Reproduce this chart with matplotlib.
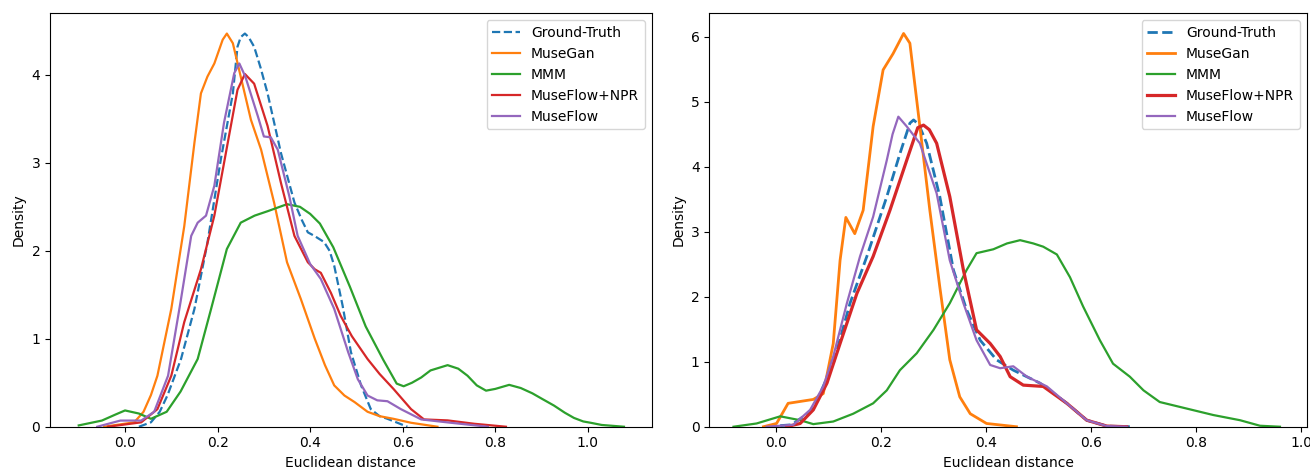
import matplotlib
matplotlib.use("Agg")
import matplotlib.pyplot as plt

# series names and colours (tab10 defaults)
labels = ["Ground-Truth", "MuseGan", "MMM", "MuseFlow+NPR", "MuseFlow"]

# ---- left panel: density curves ----
l_gt_x = [0.03, 0.056, 0.075, 0.092, 0.121, 0.15, 0.178, 0.207, 0.233, 0.243, 0.25, 0.259, 0.267, 0.279, 0.293,
          0.308, 0.337, 0.366, 0.382, 0.395, 0.409, 0.43, 0.442, 0.452, 0.47, 0.488, 0.51, 0.531, 0.55, 0.567,
          0.61]
l_gt_y = [0.0, 0.05, 0.17, 0.36, 0.77, 1.34, 2.09, 3.04, 3.79, 4.32, 4.43, 4.47, 4.43, 4.32, 4.08,
          3.79, 3.11, 2.55, 2.35, 2.21, 2.17, 2.1, 2.0, 1.83, 1.38, 0.85, 0.47, 0.2, 0.12, 0.09,
          0.0]

l_gan_x = [-0.045, 0.02, 0.04, 0.056, 0.07, 0.1, 0.128, 0.15, 0.164, 0.178, 0.193, 0.211, 0.22, 0.233, 0.25,
           0.272, 0.294, 0.322, 0.35, 0.38, 0.41, 0.432, 0.452, 0.474, 0.496, 0.524, 0.55, 0.58, 0.618, 0.675]
l_gan_y = [0.0, 0.05, 0.17, 0.36, 0.58, 1.34, 2.28, 3.23, 3.79, 3.98, 4.13, 4.4, 4.47, 4.36, 3.98,
           3.49, 3.15, 2.55, 1.87, 1.45, 1.0, 0.7, 0.47, 0.355, 0.28, 0.17, 0.12, 0.09, 0.045, 0.0]

l_mmm_x = [-0.1, -0.05, -0.02, 0.0, 0.03, 0.056, 0.09, 0.12, 0.157, 0.186, 0.22, 0.25, 0.28, 0.308, 0.35,
           0.378, 0.4, 0.421, 0.45, 0.486, 0.52, 0.558, 0.587, 0.602, 0.62, 0.64, 0.66, 0.697, 0.72, 0.74, 0.76,
           0.78, 0.80, 0.83, 0.855, 0.88, 0.9, 0.927, 0.95, 0.97, 0.99, 1.006, 1.03, 1.078]
l_mmm_y = [0.015, 0.07, 0.14, 0.185, 0.15, 0.09, 0.17, 0.4, 0.77, 1.34, 2.02, 2.32, 2.4, 2.45, 2.53,
           2.5, 2.42, 2.31, 2.04, 1.59, 1.14, 0.76, 0.49, 0.46, 0.5, 0.56, 0.64, 0.70, 0.66, 0.58, 0.47,
           0.41, 0.43, 0.476, 0.44, 0.38, 0.32, 0.24, 0.16, 0.1, 0.06, 0.045, 0.02, 0.0]

l_npr_x = [-0.037, 0.035, 0.07, 0.1, 0.128, 0.164, 0.193, 0.222, 0.243, 0.259, 0.279, 0.308, 0.337, 0.366,
           0.395, 0.41, 0.423, 0.445, 0.466, 0.49, 0.524, 0.55, 0.58, 0.618, 0.646, 0.697, 0.754, 0.823]
l_npr_y = [0.0, 0.05, 0.2, 0.58, 1.19, 1.79, 2.4, 3.23, 3.83, 4.01, 3.9, 3.42, 2.77, 2.17,
           1.87, 1.79, 1.75, 1.52, 1.26, 1.03, 0.77, 0.6, 0.43, 0.2, 0.083, 0.072, 0.034, 0.0]

l_flow_x = [-0.06, -0.01, 0.035, 0.063, 0.093, 0.12, 0.143, 0.157, 0.175, 0.193, 0.214, 0.236, 0.247, 0.26,
            0.287, 0.30, 0.315, 0.33, 0.355, 0.373, 0.4, 0.423, 0.452, 0.482, 0.503, 0.524, 0.545, 0.567, 0.596,
            0.64, 0.704, 0.784]
l_flow_y = [0.0, 0.07, 0.07, 0.17, 0.58, 1.42, 2.17, 2.32, 2.4, 2.74, 3.46, 4.02, 4.13, 3.98,
            3.53, 3.3, 3.29, 3.15, 2.62, 2.17, 1.85, 1.68, 1.34, 0.85, 0.54, 0.355, 0.3, 0.29, 0.2,
            0.083, 0.045, 0.0]

# ---- right panel ----
r_gt_x = [-0.02, 0.03, 0.07, 0.109, 0.141, 0.173, 0.211, 0.236, 0.255, 0.262, 0.272, 0.287, 0.312, 0.338,
          0.363, 0.389, 0.42, 0.452, 0.503, 0.554, 0.592, 0.63, 0.674]
r_gt_y = [0.0, 0.03, 0.26, 0.97, 1.9, 2.62, 3.54, 4.2, 4.67, 4.72, 4.65, 4.36, 3.54, 2.41,
          1.8, 1.33, 1.03, 0.87, 0.67, 0.36, 0.1, 0.01, 0.0]

r_gan_x = [-0.024, 0.001, 0.023, 0.039, 0.071, 0.09, 0.109, 0.122, 0.133, 0.15, 0.166, 0.185, 0.204, 0.223,
           0.243, 0.255, 0.274, 0.293, 0.312, 0.331, 0.35, 0.37, 0.401, 0.458]
r_gan_y = [0.0, 0.05, 0.36, 0.38, 0.42, 0.51, 1.28, 2.56, 3.22, 2.97, 3.33, 4.62, 5.49, 5.74,
           6.05, 5.9, 4.62, 3.33, 2.15, 1.03, 0.46, 0.2, 0.05, 0.0]

r_mmm_x = [-0.081, -0.037, 0.008, 0.046, 0.071, 0.109, 0.147, 0.185, 0.211, 0.236, 0.268, 0.3, 0.331, 0.363,
           0.382, 0.414, 0.44, 0.465, 0.49, 0.509, 0.535, 0.56, 0.585, 0.617, 0.642, 0.674, 0.7, 0.731, 0.782,
           0.833, 0.884, 0.922, 0.96]
r_mmm_y = [0.0, 0.05, 0.16, 0.1, 0.04, 0.08, 0.2, 0.36, 0.56, 0.87, 1.13, 1.49, 1.9, 2.41,
           2.67, 2.73, 2.82, 2.87, 2.82, 2.77, 2.65, 2.3, 1.85, 1.33, 0.97, 0.77, 0.56, 0.38, 0.28,
           0.18, 0.1, 0.015, 0.0]

r_npr_x = [0.02, 0.046, 0.071, 0.097, 0.122, 0.154, 0.185, 0.217, 0.249, 0.27, 0.281, 0.292, 0.306, 0.331,
           0.357, 0.382, 0.408, 0.427, 0.446, 0.471, 0.509, 0.554, 0.592, 0.63, 0.668]
r_npr_y = [0.0, 0.05, 0.26, 0.67, 1.28, 2.05, 2.62, 3.33, 4.1, 4.6, 4.64, 4.57, 4.36, 3.54,
           2.41, 1.49, 1.28, 1.08, 0.77, 0.64, 0.62, 0.36, 0.1, 0.01, 0.0]

r_flow_x = [-0.018, 0.033, 0.065, 0.09, 0.109, 0.135, 0.16, 0.185, 0.211, 0.222, 0.233, 0.249, 0.274, 0.306,
            0.331, 0.357, 0.382, 0.408, 0.427, 0.452, 0.478, 0.516, 0.554, 0.592, 0.63, 0.668]
r_flow_y = [0.0, 0.03, 0.26, 0.62, 1.08, 1.9, 2.62, 3.23, 4.1, 4.5, 4.77, 4.62, 4.36, 3.59,
            2.56, 1.9, 1.33, 0.95, 0.9, 0.93, 0.77, 0.62, 0.36, 0.1, 0.01, 0.0]

left = [(l_gt_x, l_gt_y), (l_gan_x, l_gan_y), (l_mmm_x, l_mmm_y), (l_npr_x, l_npr_y), (l_flow_x, l_flow_y)]
right = [(r_gt_x, r_gt_y), (r_gan_x, r_gan_y), (r_mmm_x, r_mmm_y), (r_npr_x, r_npr_y), (r_flow_x, r_flow_y)]

colors = ["C0", "C1", "C2", "C3", "C4"]
lw_left = [1.6, 1.6, 1.6, 1.6, 1.6]
lw_right = [2.0, 2.0, 1.6, 2.3, 1.6]

fig = plt.figure(figsize=(13.1, 4.71), dpi=100)
ax1 = fig.add_axes([0.0382, 0.094, 0.4593, 0.8777])
ax2 = fig.add_axes([0.5415, 0.094, 0.456, 0.8777])

for ax, data, lws in [(ax1, left, lw_left), (ax2, right, lw_right)]:
    for (x, y), lab, c, lw in zip(data, labels, colors, lws):
        ls = "--" if lab == "Ground-Truth" else "-"
        ax.plot(x, y, ls, color=c, lw=lw, label=lab, solid_joinstyle="round")
    ax.set_xticks([0.0, 0.2, 0.4, 0.6, 0.8, 1.0])
    ax.set_xlabel("Euclidean distance")
    ax.set_ylabel("Density")
    ax.legend(loc="upper right")

ax1.set_xlim(-0.162, 1.138)
ax1.set_ylim(0, 4.70)
ax2.set_xlim(-0.127, 1.011)
ax2.set_ylim(0, 6.36)

plt.savefig("out.png")
